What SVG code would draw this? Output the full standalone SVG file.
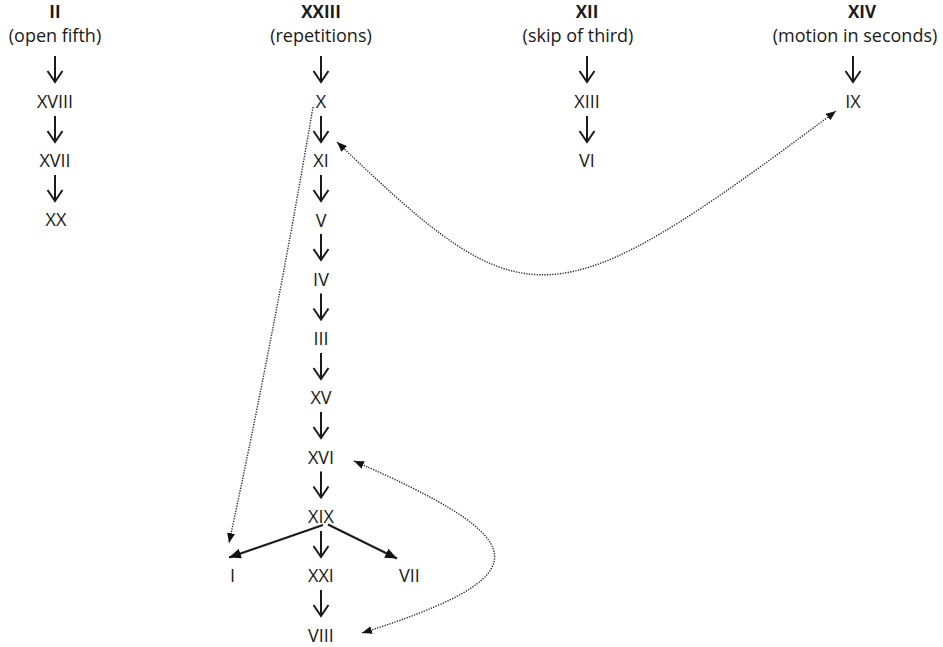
<svg xmlns="http://www.w3.org/2000/svg" width="943" height="647" viewBox="0 0 943 647">
<defs>
<style>
text{font-family:"Open Sans","Liberation Sans",sans-serif;font-size:18px;fill:#1a1a1a;text-anchor:middle}
.b{font-weight:bold;font-size:17px}
.down{fill:none;stroke:#1a1a1a;stroke-width:2;stroke-linecap:butt;stroke-linejoin:miter}
.solid{fill:none;stroke:#1a1a1a;stroke-width:2}
.dot{fill:none;stroke:#2a2a2a;stroke-width:1.4;stroke-dasharray:1.3 1.3}
</style>
<marker id="ah" viewBox="0 0 10 8" refX="10" refY="4" markerWidth="10" markerHeight="8" markerUnits="userSpaceOnUse" orient="auto-start-reverse">
<path d="M0,0 L10,4 L0,8 z" fill="#111"/>
</marker>
<marker id="ahs" viewBox="0 0 12 10" refX="12" refY="5" markerWidth="12" markerHeight="10" markerUnits="userSpaceOnUse" orient="auto">
<path d="M0,0 L12,5 L0,10 z" fill="#111"/>
</marker>
</defs>
<rect width="943" height="647" fill="#fff"/>

<g id="n-II"><text class="b" x="55" y="17.5">II</text><text x="55" y="42">(open fifth)</text></g>
<g id="n-XVIII"><text x="55" y="108">XVIII</text></g>
<g id="n-XVII"><text x="55" y="167">XVII</text></g>
<g id="n-XX"><text x="56" y="226">XX</text></g>

<g id="n-XXIII"><text class="b" x="321" y="17.5">XXIII</text><text x="321" y="42">(repetitions)</text></g>
<g id="n-X"><text x="321" y="108">X</text></g>
<g id="n-XI"><text x="321" y="167">XI</text></g>
<g id="n-V"><text x="321" y="226.5">V</text></g>
<g id="n-IV"><text x="321" y="285.5">IV</text></g>
<g id="n-III"><text x="321" y="345">III</text></g>
<g id="n-XV"><text x="321" y="404">XV</text></g>
<g id="n-XVI"><text x="321" y="463.5">XVI</text></g>
<g id="n-XIX"><text x="321" y="523">XIX</text></g>
<g id="n-I"><text x="232.5" y="582">I</text></g>
<g id="n-XXI"><text x="321" y="582">XXI</text></g>
<g id="n-VII"><text x="409.5" y="582">VII</text></g>
<g id="n-VIII"><text x="321" y="641.5">VIII</text></g>

<g id="n-XII"><text class="b" x="587" y="17.5">XII</text><text x="578" y="42">(skip of third)</text></g>
<g id="n-XIII"><text x="587" y="108">XIII</text></g>
<g id="n-VI"><text x="587" y="167">VI</text></g>

<g id="n-XIV"><text class="b" x="862" y="17.5">XIV</text><text x="855" y="42">(motion in seconds)</text></g>
<g id="n-IX"><text x="853" y="108">IX</text></g>

<g id="connectors">
<path class="down" d="M55,56 V82 M47.5,71 L55,82 L62.5,71"/>
<path class="down" d="M55,116 V142 M47.5,131 L55,142 L62.5,131"/>
<path class="down" d="M55,175 V201 M47.5,190 L55,201 L62.5,190"/>

<path class="down" d="M321,56 V82 M313.5,71 L321,82 L328.5,71"/>
<path class="down" d="M321,116 V142 M313.5,131 L321,142 L328.5,131"/>
<path class="down" d="M321,175 V201 M313.5,190 L321,201 L328.5,190"/>
<path class="down" d="M321,234 V260 M313.5,249 L321,260 L328.5,249"/>
<path class="down" d="M321,293.5 V319.5 M313.5,308.5 L321,319.5 L328.5,308.5"/>
<path class="down" d="M321,353 V379 M313.5,368 L321,379 L328.5,368"/>
<path class="down" d="M321,412 V438 M313.5,427 L321,438 L328.5,427"/>
<path class="down" d="M321,471.5 V497.5 M313.5,486.5 L321,497.5 L328.5,486.5"/>
<path class="down" d="M321,531 V557 M313.5,546 L321,557 L328.5,546"/>
<path class="down" d="M321,590 V616 M313.5,605 L321,616 L328.5,605"/>

<path class="down" d="M587,56 V82 M579.5,71 L587,82 L594.5,71"/>
<path class="down" d="M587,116 V142 M579.5,131 L587,142 L594.5,131"/>

<path class="down" d="M853,56 V82 M845.5,71 L853,82 L860.5,71"/>

<path class="solid" d="M323,525 L229,557.5" marker-end="url(#ahs)"/>
<path class="solid" d="M328,524.5 L397,558.5" marker-end="url(#ahs)"/>

<path class="dot" d="M313,107 Q275,330 229,543" marker-end="url(#ah)"/>
<path class="dot" d="M337,142 C526,323 550,325 836,111" marker-start="url(#ah)" marker-end="url(#ah)"/>
<path class="dot" d="M354,461 C535,540 545,575 362,633" marker-start="url(#ah)" marker-end="url(#ah)"/>
</g>
</svg>
